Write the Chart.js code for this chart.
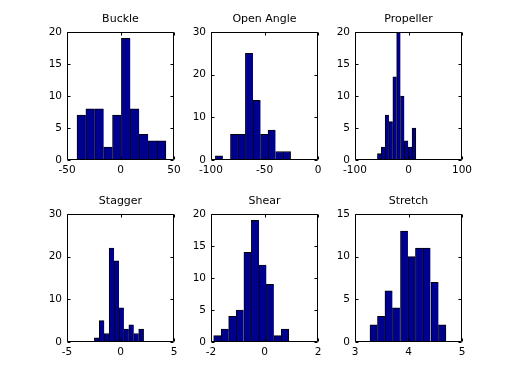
<!DOCTYPE html>
<html>
<head>
<meta charset="utf-8">
<script src="https://cdn.jsdelivr.net/npm/chart.js@4/dist/chart.umd.min.js"></script>
<style>
  html, body { margin: 0; padding: 0; background: #fff; }
  #wrap { position: relative; width: 512px; height: 384px; background: #fff; overflow: hidden; }
  canvas { position: absolute; }
</style>
</head>
<body>
<div id="wrap"></div>
<script>
// ---- Data ----
const titles = ["Buckle", "Open Angle", "Propeller", "Stagger", "Shear", "Stretch"];

const buckleCenters = [-36.5, -28.2, -19.9, -11.6, -3.3, 5.0, 13.3, 21.7, 30.0, 38.3];
const buckleCounts  = [7, 8, 8, 2, 7, 19, 8, 4, 3, 3];

const openAngleCenters = [-92.4, -85.4, -78.3, -71.3, -64.3, -57.2, -50.2, -43.2, -36.1, -29.1];
const openAngleCounts  = [1, 0, 6, 6, 25, 14, 6, 7, 2, 2];

const propellerCenters = [-54.5, -47.3, -40.1, -32.9, -25.7, -18.6, -11.4, -4.2, 3.0, 10.2];
const propellerCounts  = [1, 2, 7, 6, 13, 20, 10, 3, 2, 5];

const staggerCenters = [-2.21, -1.75, -1.29, -0.83, -0.37, 0.09, 0.55, 1.01, 1.47, 1.93];
const staggerCounts  = [1, 5, 2, 22, 19, 8, 3, 4, 2, 3];

const shearCenters = [-1.76, -1.48, -1.20, -0.92, -0.63, -0.35, -0.07, 0.21, 0.49, 0.77];
const shearCounts  = [1, 2, 4, 5, 14, 19, 12, 9, 1, 2];

const stretchCenters = [3.35, 3.49, 3.63, 3.77, 3.92, 4.06, 4.20, 4.34, 4.49, 4.63];
const stretchCounts  = [2, 3, 6, 4, 13, 10, 11, 11, 7, 2];

// axis limits / tick steps
const xMins  = [-50, -100, -100, -5, -2, 3];
const xMaxs  = [50, 0, 100, 5, 2, 5];
const xSteps = [50, 50, 100, 5, 2, 1];
const yMaxs  = [20, 30, 20, 30, 20, 15];
const ySteps = [5, 10, 5, 10, 5, 5];

const centersList = [buckleCenters, openAngleCenters, propellerCenters, staggerCenters, shearCenters, stretchCenters];
const countsList  = [buckleCounts, openAngleCounts, propellerCounts, staggerCounts, shearCounts, stretchCounts];

// ---- Layout ----
const axLefts = [67, 211, 355];
const axTops = [32, 214];
const axW = 107, axH = 128;
const padL = 45, padT = 30, padR = 20, padB = 22;
const FONT = "'DejaVu Sans', sans-serif";

const boxTicks = {
  id: 'boxTicks',
  afterDraw(chart) {
    const ctx = chart.ctx;
    const a = chart.chartArea;
    const xs = chart.scales.x, ys = chart.scales.y;
    const L = Math.round(a.left) + 0.5, R = Math.round(a.right) - 0.5;
    const T = Math.round(a.top) + 0.5, B = Math.round(a.bottom) - 0.5;
    ctx.save();
    ctx.strokeStyle = '#000';
    ctx.lineWidth = 1;
    ctx.beginPath();
    ctx.rect(L, T, R - L, B - T);
    const tl = 3;
    xs.ticks.forEach(t => {
      const px = Math.round(xs.getPixelForValue(t.value)) + 0.5;
      ctx.moveTo(px, B); ctx.lineTo(px, B - tl);
      ctx.moveTo(px, T); ctx.lineTo(px, T + tl);
    });
    ys.ticks.forEach(t => {
      const py = Math.round(ys.getPixelForValue(t.value)) + 0.5;
      ctx.moveTo(L, py); ctx.lineTo(L + tl, py);
      ctx.moveTo(R, py); ctx.lineTo(R - tl, py);
    });
    ctx.stroke();
    // title, centred over the axes box
    const title = chart.options.plugins.boxTicks && chart.options.plugins.boxTicks.title;
    if (title) {
      ctx.fillStyle = '#000';
      ctx.font = "11px " + FONT;
      ctx.textAlign = 'center';
      ctx.textBaseline = 'middle';
      ctx.fillText(title, (a.left + a.right) / 2, a.top - 13);
    }
    ctx.restore();
  }
};

const wrap = document.getElementById('wrap');
for (let i = 0; i < 6; i++) {
  const col = i % 3, row = Math.floor(i / 3);
  const cv = document.createElement('canvas');
  const w = padL + axW + padR, h = padT + axH + padB;
  cv.width = w; cv.height = h;
  cv.style.width = w + 'px'; cv.style.height = h + 'px';
  cv.style.left = (axLefts[col] - padL) + 'px';
  cv.style.top = (axTops[row] - padT) + 'px';
  wrap.appendChild(cv);

  const centers = centersList[i], counts = countsList[i];
  const last = counts.length - 1;
  const data = centers.map((c, k) => ({ x: c, y: counts[k] }));

  new Chart(cv, {
    type: 'bar',
    data: {
      datasets: [{
        label: titles[i],
        data: data,
        backgroundColor: 'rgb(0,0,143)',
        borderColor: '#000',
        borderWidth: (c) => ({ left: 1, top: 1, bottom: 0, right: c.dataIndex === last ? 1 : 0 }),
        borderSkipped: false,
        barPercentage: 1,
        categoryPercentage: 1
      }]
    },
    plugins: [boxTicks],
    options: {
      responsive: false,
      animation: false,
      devicePixelRatio: 1,
      layout: { padding: { left: 0, right: padR, top: padT, bottom: 0 } },
      plugins: {
        legend: { display: false },
        tooltip: { enabled: false },
        title: { display: false },
        boxTicks: { title: titles[i] }
      },
      scales: {
        x: {
          type: 'linear',
          offset: false,
          min: xMins[i], max: xMaxs[i],
          grid: { display: false, drawTicks: false, offset: false },
          border: { display: false },
          ticks: {
            stepSize: xSteps[i],
            color: '#000',
            padding: 4,
            maxRotation: 0,
            autoSkip: false,
            font: { family: FONT, size: 10.5 }
          },
          afterFit(s) { s.height = padB; }
        },
        y: {
          min: 0, max: yMaxs[i],
          grid: { display: false, drawTicks: false },
          border: { display: false },
          ticks: {
            stepSize: ySteps[i],
            color: '#000',
            padding: 5,
            font: { family: FONT, size: 10.5 }
          },
          afterFit(s) { s.width = padL; }
        }
      }
    }
  });
}
</script>
</body>
</html>
